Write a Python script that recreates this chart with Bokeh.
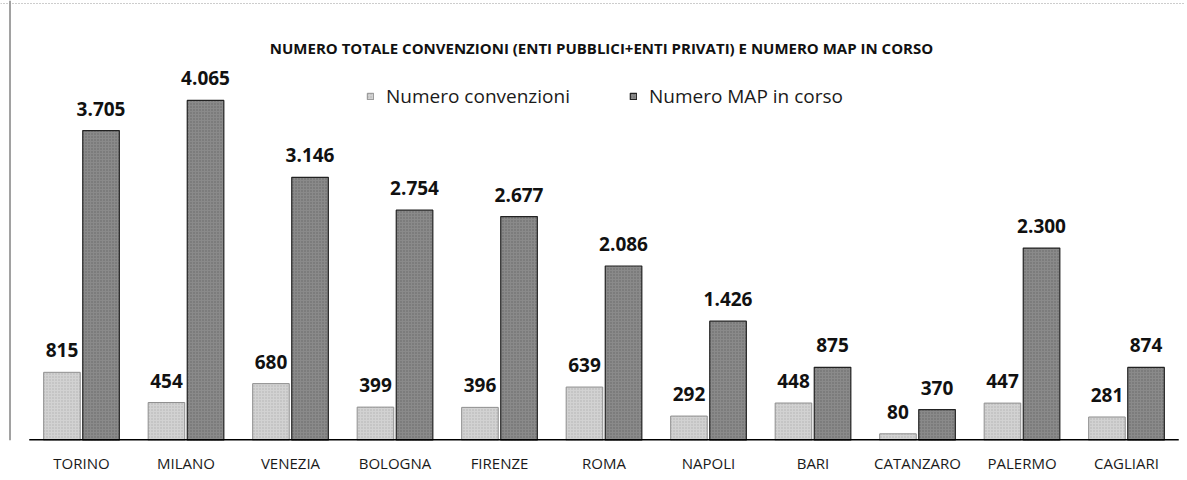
from bokeh.plotting import figure
from bokeh.models import (Range1d, FixedTicker, ColumnDataSource, LabelSet, Legend,
                          LegendItem, Label, Span)
from bokeh.transform import dodge
from bokeh.embed import file_html
from bokeh.resources import INLINE
from bokeh.core.properties import value

# ---- data ----
cities = ["TORINO", "MILANO", "VENEZIA", "BOLOGNA", "FIRENZE", "ROMA",
          "NAPOLI", "BARI", "CATANZARO", "PALERMO", "CAGLIARI"]
convenzioni = [815, 454, 680, 399, 396, 639, 292, 448, 80, 447, 281]
map_in_corso = [3705, 4065, 3146, 2754, 2677, 2086, 1426, 875, 370, 2300, 874]
series_names = ["Numero convenzioni", "Numero MAP in corso"]
title_text = "NUMERO TOTALE CONVENZIONI (ENTI PUBBLICI+ENTI PRIVATI) E NUMERO MAP IN CORSO"


def fmt(v):
    return f"{v:,}".replace(",", ".")


idx = list(range(len(cities)))
src = ColumnDataSource(dict(
    x=idx,
    conv=convenzioni,
    mapc=map_in_corso,
    conv_lbl=[fmt(v) for v in convenzioni],
    map_lbl=[fmt(v) for v in map_in_corso],
))

# ---- layout (page pixels) ----
W, H = 1184, 478
cat_px = 104.5          # width of one category
x0_page = 81.0          # centre of first category
frame_h = 440           # baseline position
px_per_unit = 0.08365

x_start = (0 - x0_page) / cat_px
x_end = (W - x0_page) / cat_px
y_end = frame_h / px_per_unit

p = figure(width=W, height=H, output_backend="svg", toolbar_location=None,
           x_range=Range1d(x_start, x_end), y_range=Range1d(0, y_end),
           y_axis_location=None, min_border_left=0, min_border_right=0,
           min_border_top=0, min_border_bottom=H - frame_h)
p.outline_line_color = None
p.grid.visible = False
p.background_fill_color = "white"
p.border_fill_color = "white"

OFF = 0.187
BW = 0.35
FONT = "Open Sans"

r1 = p.vbar(x=dodge("x", -OFF), top="conv", width=BW, source=src,
            fill_color="#d2d2d2", line_color="#8f8f8f", line_width=1,
            hatch_pattern="dot", hatch_color="#b0b0b0", hatch_scale=3, hatch_weight=0.6)
r2 = p.vbar(x=dodge("x", OFF), top="mapc", width=BW, source=src,
            fill_color="#8a8a8a", line_color="#222222", line_width=1.2,
            hatch_pattern="dot", hatch_color="#666666", hatch_scale=3, hatch_weight=0.6)

# baseline
p.segment(x0=[idx[0] - 0.5], y0=[0], x1=[idx[-1] + 0.5], y1=[0],
          line_color="black", line_width=3)

# value labels
for col, ycol, off in (("conv_lbl", "conv", -OFF), ("map_lbl", "mapc", OFF)):
    p.add_layout(LabelSet(x=dodge("x", off), y=ycol, text=col, source=src,
                          text_align="center", text_baseline="alphabetic",
                          y_offset=15, text_font=value(FONT),
                          text_font_style="bold", text_font_size="19px",
                          text_color="#111111"))

# axis
p.xaxis.ticker = FixedTicker(ticks=idx)
p.xaxis.major_label_overrides = {i: c for i, c in zip(idx, cities)}
p.xaxis.axis_line_color = None
p.xaxis.major_tick_line_color = None
p.xaxis.minor_tick_line_color = None
p.xaxis.major_tick_out = 0
p.xaxis.major_tick_in = 0
p.xaxis.major_label_standoff = 12
p.xaxis.major_label_text_font = FONT
p.xaxis.major_label_text_font_size = "15px"
p.xaxis.major_label_text_color = "#1a1a1a"

# borders of the scanned chart
p.add_layout(Span(location=x_start + 9.5 / cat_px, dimension="height",
                  line_color="#444444", line_width=1))
p.add_layout(Span(location=y_end - 3.0 / px_per_unit, dimension="width",
                  line_color="#9a9a9a", line_width=1, line_dash="1 2"))

# title
p.add_layout(Label(x=(601 - x0_page) / cat_px, y=(frame_h - 47) / px_per_unit,
                   text=title_text, text_align="center", text_baseline="alphabetic",
                   text_font=FONT, text_font_style="bold", text_font_size="15px",
                   text_color="#111111"))

# legend
legend = Legend(items=[LegendItem(label=series_names[0], renderers=[r1]),
                       LegendItem(label=series_names[1], renderers=[r2])],
                orientation="horizontal", location=(366, frame_h - 109),
                glyph_width=8, glyph_height=8, label_standoff=12, spacing=59,
                padding=0, margin=0, border_line_color=None,
                background_fill_alpha=0, label_text_font=FONT,
                label_text_font_size="19px", label_text_color="#1a1a1a")
p.add_layout(legend)

open("out.html", "w").write(file_html(p, INLINE))
